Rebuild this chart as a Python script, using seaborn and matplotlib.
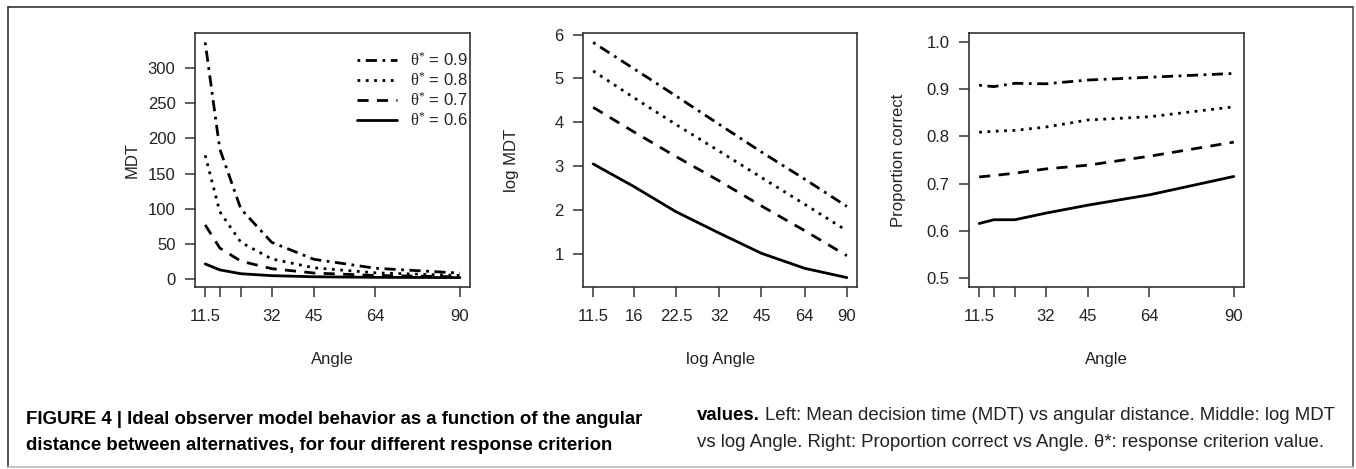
import numpy as np
import pandas as pd
import seaborn as sns
import matplotlib
matplotlib.use("Agg")
import matplotlib.pyplot as plt
from matplotlib.lines import Line2D

# ---------------- data ----------------
angles = [11.5, 16, 22.5, 32, 45, 64, 90]
thetas = ["0.9", "0.8", "0.7", "0.6"]
# mean decision time (MDT) per criterion theta*
mdt_09 = [337, 185, 99.5, 51.9, 27.7, 14.9, 8.0]
mdt_08 = [176, 95.6, 51.9, 28.2, 15.5, 8.4, 4.6]
mdt_07 = [76.7, 43.8, 25.0, 14.3, 8.1, 4.6, 2.6]
mdt_06 = [21.1, 12.6, 7.1, 4.35, 2.75, 1.95, 1.58]
# proportion correct per criterion theta*
pc_09 = [0.909, 0.906, 0.913, 0.912, 0.920, 0.926, 0.934]
pc_08 = [0.809, 0.811, 0.813, 0.820, 0.835, 0.842, 0.863]
pc_07 = [0.714, 0.717, 0.722, 0.731, 0.739, 0.758, 0.788]
pc_06 = [0.615, 0.623, 0.623, 0.637, 0.654, 0.676, 0.715]

x_ticklabels_lin = ["11.5", "", "", "32", "45", "64", "90"]
x_ticklabels_log = ["11.5", "16", "22.5", "32", "45", "64", "90"]
mdt_ticks = [0, 50, 100, 150, 200, 250, 300]
logmdt_ticks = [1, 2, 3, 4, 5, 6]
pc_ticks = [0.5, 0.6, 0.7, 0.8, 0.9, 1.0]

mdt_series = {"0.9": mdt_09, "0.8": mdt_08, "0.7": mdt_07, "0.6": mdt_06}
pc_series = {"0.9": pc_09, "0.8": pc_08, "0.7": pc_07, "0.6": pc_06}

rows = []
for th in thetas:
    for a, m, p in zip(angles, mdt_series[th], pc_series[th]):
        rows.append({"theta": th, "angle": a, "mdt": m, "logmdt": np.log(m), "pc": p})
df = pd.DataFrame(rows)

# ---------------- style ----------------
sns.set_theme(style="ticks")
plt.rcParams["font.family"] = ["Liberation Sans", "DejaVu Sans"]
plt.rcParams["mathtext.fontset"] = "custom"
plt.rcParams["mathtext.rm"] = "Liberation Serif"
plt.rcParams["mathtext.it"] = "Liberation Serif"

W, H = 1356, 469
fig = plt.figure(figsize=(W / 100, H / 100), dpi=100)
fig.patch.set_facecolor("white")

def px_axes(x0, x1, y0, y1):
    return fig.add_axes([x0 / W, 1 - y1 / H, (x1 - x0) / W, (y1 - y0) / H])

axL = px_axes(195, 470, 33, 287)
axM = px_axes(583, 857, 33, 287)
axR = px_axes(969, 1244, 33, 287)

dashes = {"0.9": (1, 2, 4, 2), "0.8": (1, 2), "0.7": (4, 3), "0.6": ""}
common = dict(style="theta", style_order=thetas, dashes=dashes, color="black",
              linewidth=2.0, errorbar=None, sort=True)

sns.lineplot(data=df, x="angle", y="mdt", ax=axL, legend=True, **common)
sns.lineplot(data=df, x="angle", y="logmdt", ax=axM, legend=False, **common)
sns.lineplot(data=df, x="angle", y="pc", ax=axR, legend=False, **common)

tick_fs = 12
txt = "#222222"
edge = "#333333"
for ax in (axL, axM, axR):
    for s in ax.spines.values():
        s.set_color(edge)
        s.set_linewidth(1.2)
    ax.tick_params(axis="both", direction="out", length=7, width=1.1,
                   color=edge, labelsize=tick_fs, labelcolor=txt)
    ax.tick_params(axis="x", pad=9)
    ax.tick_params(axis="y", pad=7)
    ax.tick_params(which="minor", length=0)

lo, hi = 11.5, 90
rng = hi - lo
for ax in (axL, axR):
    ax.set_xlim(lo - 0.04 * rng, hi + 0.04 * rng)
    ax.set_xticks(angles)
    ax.set_xticklabels(x_ticklabels_lin)

axM.set_xscale("log")
llo, lhi = np.log10(lo), np.log10(hi)
lr = lhi - llo
axM.set_xlim(10 ** (llo - 0.04 * lr), 10 ** (lhi + 0.04 * lr))
axM.set_xticks(angles)
axM.set_xticklabels(x_ticklabels_log)
axM.xaxis.set_minor_locator(matplotlib.ticker.NullLocator())

ymin, ymax = df["mdt"].min(), df["mdt"].max()
r = ymax - ymin
axL.set_ylim(ymin - 0.04 * r, ymax + 0.04 * r)
axL.set_yticks(mdt_ticks)
axL.set_yticklabels([str(t) for t in mdt_ticks])

ymin, ymax = df["logmdt"].min(), df["logmdt"].max()
r = ymax - ymin
axM.set_ylim(ymin - 0.04 * r, ymax + 0.04 * r)
axM.set_yticks(logmdt_ticks)
axM.set_yticklabels([str(t) for t in logmdt_ticks])

axR.set_ylim(0.5 - 0.02, 1.0 + 0.02)
axR.set_yticks(pc_ticks)
axR.set_yticklabels([f"{t:.1f}" for t in pc_ticks])

lab_fs = 12
axL.set_xlabel("Angle", fontsize=lab_fs, color=txt)
axM.set_xlabel("log Angle", fontsize=lab_fs, color=txt)
axR.set_xlabel("Angle", fontsize=lab_fs, color=txt)
axL.set_ylabel("MDT", fontsize=lab_fs, color=txt)
axM.set_ylabel("log MDT", fontsize=lab_fs, color=txt)
axR.set_ylabel("Proportion correct", fontsize=lab_fs, color=txt)
for ax, yx in ((axL, -0.230), (axM, -0.260), (axR, -0.258)):
    ax.xaxis.set_label_coords(0.5, -0.287)
    ax.xaxis.label.set_verticalalignment("center")
    ax.yaxis.set_label_coords(yx, 0.5)
    ax.yaxis.label.set_verticalalignment("center")

# legend
handles, labels = axL.get_legend_handles_labels()
hmap = dict(zip(labels, handles))
leg_handles = [hmap[t] for t in thetas]
leg_labels = [r"$\mathrm{\theta}^{*}$" + f" = {t}" for t in thetas]
leg = axL.legend(leg_handles, leg_labels, loc="upper right", frameon=False,
                 fontsize=12, handlelength=2.4, handletextpad=0.8,
                 labelspacing=0.12, borderaxespad=0.3,
                 bbox_to_anchor=(1.035, 0.975))
for t in leg.get_texts():
    t.set_color(txt)

# outer frame
fig.add_artist(Line2D([8 / W, 8 / W], [1 - 7 / H, 1 - 467 / H], transform=fig.transFigure, color="#333333", lw=1.2))
fig.add_artist(Line2D([8 / W, 1353 / W], [1 - 7 / H, 1 - 7 / H], transform=fig.transFigure, color="#333333", lw=1.2))
fig.add_artist(Line2D([1353 / W, 1353 / W], [1 - 7 / H, 1 - 467 / H], transform=fig.transFigure, color="#555555", lw=1.2))
fig.add_artist(Line2D([8 / W, 1353 / W], [1 - 467 / H, 1 - 467 / H], transform=fig.transFigure, color="#bbbbbb", lw=1.2))

# caption
cap_fs = 13.4
fig.text(26 / W, 1 - 419 / H, "FIGURE 4 | Ideal observer model behavior as a function of the angular",
         fontsize=cap_fs, fontweight="bold", va="center", ha="left", color="black")
fig.text(26 / W, 1 - 445 / H, "distance between alternatives, for four different response criterion",
         fontsize=cap_fs, fontweight="bold", va="center", ha="left", color="black")
t1 = fig.text(697 / W, 1 - 415 / H, "values.", fontsize=cap_fs, fontweight="bold",
              va="center", ha="left", color="black")
fig.canvas.draw()
bb = t1.get_window_extent(fig.canvas.get_renderer())
fig.text((bb.x1 + 5) / W, 1 - 415 / H,
         "Left: Mean decision time (MDT) vs angular distance. Middle: log MDT",
         fontsize=cap_fs, va="center", ha="left", color=txt)
fig.text(697 / W, 1 - 442 / H,
         "vs log Angle. Right: Proportion correct vs Angle. θ*: response criterion value.",
         fontsize=cap_fs, va="center", ha="left", color=txt)

fig.savefig("out.png", dpi=100, facecolor="white")
